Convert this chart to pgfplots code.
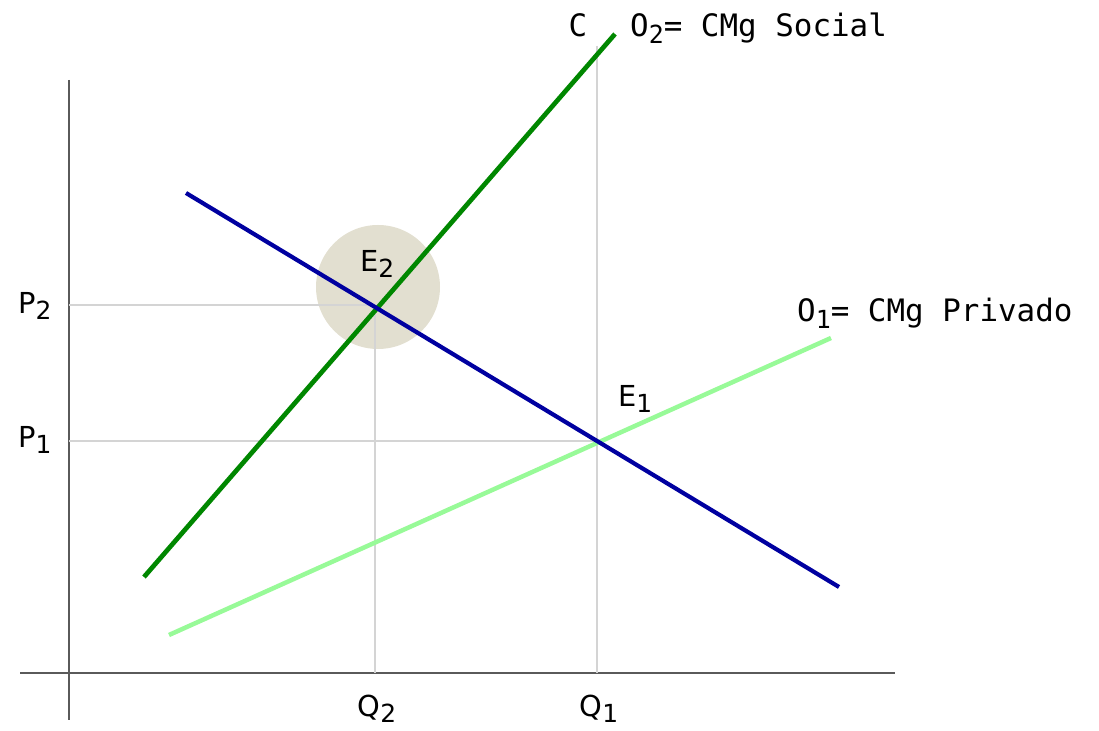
\documentclass[border=0pt]{standalone}
\usepackage{fontspec}
\setmainfont{DejaVu Sans Mono}
\newfontfamily\labfont{DejaVu Sans}
\usepackage{pgfplots}
\pgfplotsset{compat=1.18}
\definecolor{dgreen}{RGB}{0,135,0}
\definecolor{dblue}{RGB}{0,0,160}
\definecolor{lgreen}{RGB}{152,250,152}
\definecolor{gridgray}{RGB}{212,212,212}
\definecolor{axgray}{RGB}{90,90,90}
\definecolor{blob}{RGB}{226,223,208}
\newcommand\sub[1]{\raisebox{-0.2em}{\fontsize{25}{25}\selectfont #1}}
\begin{document}
\begin{tikzpicture}
\begin{axis}[
  x=1bp, y=1bp,
  xmin=0, xmax=1099, ymin=0, ymax=731,
  hide axis, clip=false,
  every axis plot/.append style={mark=none},
]
\path (axis cs:0,0) rectangle (axis cs:1099,731);
% shaded area around E2
\fill[blob] (axis cs:378,444) circle [radius=62];
% axes
\addplot[axgray, line width=1.5bp] coordinates {(69,651) (69,11)};
\addplot[axgray, line width=1.5bp] coordinates {(20,58) (895,58)};
% guide lines
\addplot[gridgray, line width=1.1bp] coordinates {(375,426) (375,58)};
\addplot[gridgray, line width=1.1bp] coordinates {(597,685) (597,58)};
\addplot[gridgray, line width=1.1bp] coordinates {(69,426) (375,426)};
\addplot[gridgray, line width=1.1bp] coordinates {(69,290) (597,290)};
% curves
\addplot[lgreen, line width=4.5bp] coordinates {(169,96) (831,393)};
\addplot[dgreen, line width=4.7bp] coordinates {(144,154) (615,697)};
\addplot[dblue, line width=4.2bp] coordinates {(186,538) (839,144)};
% labels
\node[anchor=base, font=\fontsize{31}{31}\selectfont] at (axis cs:578,694) {C};
\node[anchor=base west, inner sep=0, font=\fontsize{31}{31}\selectfont] at (axis cs:630,694) {O\sub{2}= CMg Social};
\node[anchor=base west, inner sep=0, font=\fontsize{31}{31}\selectfont] at (axis cs:797,409) {O\sub{1}= CMg Privado};
\node[anchor=base west, inner sep=0, font=\labfont\fontsize{29}{29}\selectfont] at (axis cs:360,459) {E\sub{2}};
\node[anchor=base west, inner sep=0, font=\labfont\fontsize{29}{29}\selectfont] at (axis cs:618,324) {E\sub{1}};
\node[anchor=base west, inner sep=0, font=\labfont\fontsize{29}{29}\selectfont] at (axis cs:18,417) {P\sub{2}};
\node[anchor=base west, inner sep=0, font=\labfont\fontsize{29}{29}\selectfont] at (axis cs:18,283) {P\sub{1}};
\node[anchor=base, inner sep=0, font=\labfont\fontsize{29}{29}\selectfont] at (axis cs:377,14) {Q\sub{2}};
\node[anchor=base, inner sep=0, font=\labfont\fontsize{29}{29}\selectfont] at (axis cs:599,14) {Q\sub{1}};
\end{axis}
\end{tikzpicture}
\end{document}
